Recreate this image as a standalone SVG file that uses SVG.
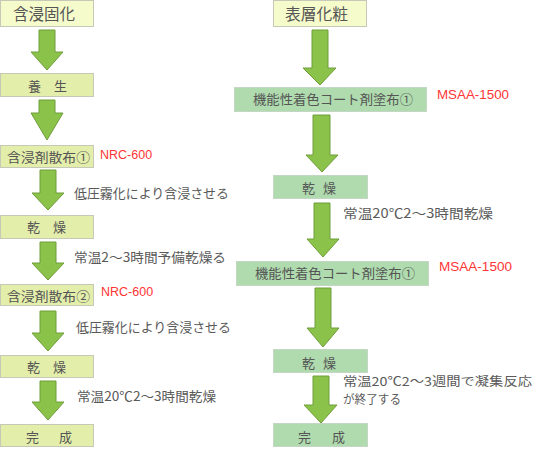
<svg xmlns="http://www.w3.org/2000/svg" width="538" height="450" viewBox="0 0 538 450">
<style>
  .lt { fill: #f6fbcc; stroke: #c6c9b8; stroke-width: 1; }
  .yl { fill: #e3eeaa; stroke: #c6c9b8; stroke-width: 1; }
  .gr { fill: #afdbae; stroke: #c4d6c4; stroke-width: 1; }
  .bt { font-family: "Noto Sans CJK JP", "Noto Sans", sans-serif; font-size: 13px; fill: #555555; }
  .tt { font-family: "Noto Sans CJK JP", "Noto Sans", sans-serif; font-size: 15.5px; fill: #555555; }
  .st { font-family: "Noto Sans CJK JP", "Noto Sans", sans-serif; font-size: 13px; fill: #595959; }
  .sm { font-family: "Noto Sans CJK JP", "Noto Sans", sans-serif; font-size: 12px; fill: #595959; }
  .rd { font-family: "Liberation Sans", Arial, sans-serif; font-size: 12.5px; fill: #ff3535; }
  .ar { fill: #8bc34a; stroke: #6f9d3a; stroke-width: 1; }
</style>
<rect width="538" height="450" fill="#ffffff"/>
<g id="connectors">
  <polygon class="ar" points="39,30 55,30 55,52 63,52 47,70 31,52 39,52"/>
  <polygon class="ar" points="39,100 55,100 55,113 63,113 47,140 31,113 39,113"/>
  <polygon class="ar" points="40,170 56,170 56,193 64,193 48,210 32,193 40,193"/>
  <polygon class="ar" points="40,242 56,242 56,263 64,263 48,280 32,263 40,263"/>
  <polygon class="ar" points="40,311 56,311 56,333 64,333 48,351 32,333 40,333"/>
  <polygon class="ar" points="40,381 56,381 56,402 64,402 48,420 32,402 40,402"/>
  <polygon class="ar" points="312,30 328,30 328,68 336,68 320,85 303,68 312,68"/>
  <polygon class="ar" points="313,115 330,115 330,155 338,155 322,172 306,155 313,155"/>
  <polygon class="ar" points="314,203 330,203 330,239 339,239 323,257 307,239 314,239"/>
  <polygon class="ar" points="315,288 331,288 331,328 339,328 323,347 307,328 315,328"/>
  <polygon class="ar" points="313,376 329,376 329,405 337,405 321,423 304,405 313,405"/>
  <text class="st" x="74" y="198" textLength="155" lengthAdjust="spacingAndGlyphs">低圧霧化により含浸させる</text>
  <text class="st" x="74" y="262" textLength="152" lengthAdjust="spacingAndGlyphs">常温2～3時間予備乾燥る</text>
  <text class="st" x="76" y="332" textLength="155" lengthAdjust="spacingAndGlyphs">低圧霧化により含浸させる</text>
  <text class="st" x="77" y="401" textLength="139" lengthAdjust="spacingAndGlyphs">常温20℃2～3時間乾燥</text>
  <text class="st" x="343" y="218" textLength="150" lengthAdjust="spacingAndGlyphs">常温20℃2～3時間乾燥</text>
  <text class="sm"><tspan x="343" y="386" textLength="189" lengthAdjust="spacingAndGlyphs">常温20℃2～3週間で凝集反応</tspan><tspan x="343" y="404" textLength="58" lengthAdjust="spacingAndGlyphs">が終了する</tspan></text>
</g>
<g id="n-gansin-koka">
  <rect class="lt" x="0.5" y="0.5" width="93" height="26"/>
  <text class="tt" x="13" y="20" textLength="62" lengthAdjust="spacingAndGlyphs">含浸固化</text>
</g>
<g id="n-yojo">
  <rect class="yl" x="0.5" y="73.5" width="93" height="23"/>
  <text class="bt" x="28" y="91">養　生</text>
</g>
<g id="n-sanpu1">
  <rect class="yl" x="0.5" y="145.5" width="93" height="22"/>
  <text class="bt" x="7" y="162" textLength="83" lengthAdjust="spacingAndGlyphs">含浸剤散布①</text>
  <text class="rd" x="100" y="159">NRC-600</text>
</g>
<g id="n-kanso1">
  <rect class="yl" x="0.5" y="215.5" width="93" height="23"/>
  <text class="bt" x="27" y="232">乾　燥</text>
</g>
<g id="n-sanpu2">
  <rect class="yl" x="0.5" y="284.5" width="93" height="21"/>
  <text class="bt" x="7" y="301" textLength="83" lengthAdjust="spacingAndGlyphs">含浸剤散布②</text>
  <text class="rd" x="101" y="296">NRC-600</text>
</g>
<g id="n-kanso2">
  <rect class="yl" x="0.5" y="355.5" width="93" height="22"/>
  <text class="bt" x="27" y="372">乾　燥</text>
</g>
<g id="n-kansei1">
  <rect class="yl" x="0.5" y="424.5" width="93" height="22"/>
  <text class="bt" x="26" y="442" letter-spacing="3.5">完　成</text>
</g>
<g id="n-hyoso">
  <rect class="lt" x="273.5" y="0.5" width="93" height="26"/>
  <text class="tt" x="285" y="20" textLength="63" lengthAdjust="spacingAndGlyphs">表層化粧</text>
</g>
<g id="n-coat1">
  <rect class="gr" x="234.5" y="87.5" width="192" height="24"/>
  <text class="bt" x="253" y="104" textLength="160" lengthAdjust="spacingAndGlyphs">機能性着色コート剤塗布①</text>
  <text class="rd" x="437" y="99" textLength="72" lengthAdjust="spacingAndGlyphs">MSAA-1500</text>
</g>
<g id="n-kanso3">
  <rect class="gr" x="273.5" y="175.5" width="94" height="23"/>
  <text class="bt" x="302" y="193" letter-spacing="-2.5">乾　燥</text>
</g>
<g id="n-coat2">
  <rect class="gr" x="236.5" y="261.5" width="192" height="24"/>
  <text class="bt" x="255" y="278" textLength="160" lengthAdjust="spacingAndGlyphs">機能性着色コート剤塗布①</text>
  <text class="rd" x="439" y="271" textLength="73" lengthAdjust="spacingAndGlyphs">MSAA-1500</text>
</g>
<g id="n-kanso4">
  <rect class="gr" x="273.5" y="349.5" width="94" height="23"/>
  <text class="bt" x="302" y="368" letter-spacing="-2.5">乾　燥</text>
</g>
<g id="n-kansei2">
  <rect class="gr" x="273.5" y="423.5" width="94" height="23"/>
  <text class="bt" x="298" y="442" letter-spacing="4">完　成</text>
</g>
</svg>
